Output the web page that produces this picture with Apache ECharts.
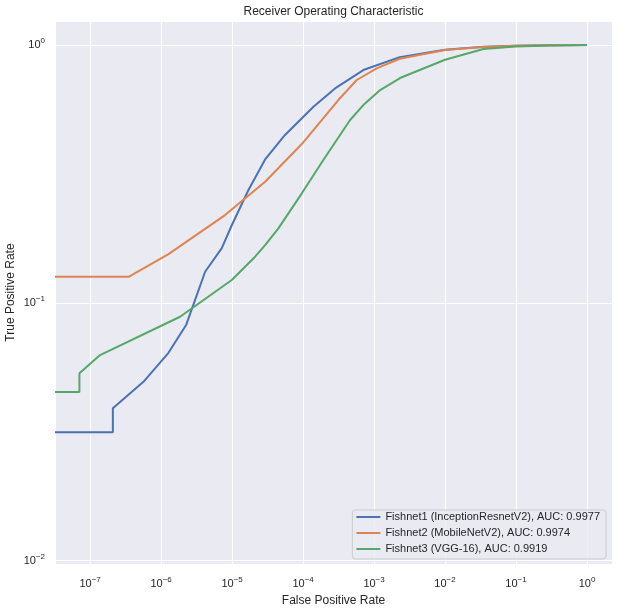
<!DOCTYPE html>
<html>
<head>
<meta charset="utf-8">
<script src="https://cdn.jsdelivr.net/npm/echarts@6/dist/echarts.min.js"></script>
<style>
  html, body { margin: 0; padding: 0; background: #fff; }
  #chart { width: 618px; height: 612px; }
</style>
</head>
<body>
<div id="chart"></div>
<script>
// ROC curves, values (fpr, tpr)
var seriesNames = [
    'Fishnet1 (InceptionResnetV2), AUC: 0.9977',
    'Fishnet2 (MobileNetV2), AUC: 0.9974',
    'Fishnet3 (VGG-16), AUC: 0.9919'
];

var fishnet1 = [
    [3.2e-8, 0.0315], [2.09e-7, 0.0315], [2.09e-7, 0.039], [5.64e-7, 0.0494],
    [1.27e-6, 0.064], [2.25e-6, 0.082], [4.17e-6, 0.132], [7.16e-6, 0.163],
    [9.9e-6, 0.200], [1.7e-5, 0.274], [2.92e-5, 0.360], [5.57e-5, 0.448],
    [1.4e-4, 0.576], [2.82e-4, 0.679], [7.06e-4, 0.800], [2.3e-3, 0.898],
    [1e-2, 0.960], [3.5e-2, 0.985], [0.1, 0.995], [0.3, 0.999], [1, 1]
];

var fishnet2 = [
    [3.2e-8, 0.1263], [3.54e-7, 0.1263], [1.27e-6, 0.1546], [7.96e-6, 0.219],
    [2.92e-5, 0.295], [9.6e-5, 0.413], [1.4e-4, 0.468], [3.14e-4, 0.612],
    [5.7e-4, 0.732], [1.09e-3, 0.812], [2.3e-3, 0.885], [1e-2, 0.957],
    [3.5e-2, 0.983], [0.1, 0.994], [0.3, 0.999], [1, 1]
];

var fishnet3 = [
    [3.2e-8, 0.0451], [7.07e-8, 0.0451], [7.07e-8, 0.0533], [1.38e-7, 0.0627],
    [1.85e-6, 0.0883], [9.9e-6, 0.1226], [2.11e-5, 0.151], [2.92e-5, 0.1676],
    [4.49e-5, 0.1945], [9.6e-5, 0.266], [1.93e-4, 0.358], [4.6e-4, 0.512],
    [7.06e-4, 0.585], [1.22e-3, 0.669], [2.32e-3, 0.745], [1e-2, 0.877],
    [3.47e-2, 0.965], [0.1, 0.988], [0.3, 0.997], [1, 1]
];

var xRange = [3.2e-8, 2.25];
var yRange = [0.0097, 1.24];

var colors = ['#4C72B0', '#DD8452', '#55A868'];
var font = '"Liberation Sans", Arial, sans-serif';
var textColor = '#262626';

function powLabel(v){
    var e = Math.log10(v);
    var r = Math.round(e);
    if (Math.abs(e - r) > 0.01) {
        return '';
    }
    return '{b|10}{s|' + String(r).replace('-', '\u2212') + '}';
}

var labelRich = {
    b: { fontSize: 11, fontFamily: font, color: textColor },
    s: { fontSize: 8, fontFamily: font, color: textColor, padding: [0, 0, 8, 0] }
};

var myChart = echarts.init(document.getElementById('chart'));

var option = {
    animation: false,
    color: colors,
    graphic: [{
        type: 'text',
        style: {
            text: 'Receiver Operating Characteristic',
            x: 333.5,
            y: 12,
            textAlign: 'center',
            textVerticalAlign: 'middle',
            fontSize: 12,
            fontFamily: font,
            fill: textColor
        }
    }],
    grid: {
        left: 55,
        right: 6,
        top: 21,
        bottom: 48,
        outerBoundsMode: 'none',
        containLabel: false,
        show: true,
        backgroundColor: '#EAEAF2',
        borderWidth: 0
    },
    legend: {
        orient: 'vertical',
        right: 12,
        bottom: 53,
        icon: 'rect',
        itemWidth: 24,
        itemHeight: 2,
        itemGap: 2,
        padding: [0, 6, 3, 4],
        backgroundColor: 'rgba(234,234,242,0.8)',
        borderColor: '#cccccc',
        borderWidth: 1,
        borderRadius: 3,
        textStyle: {
            fontSize: 11,
            fontFamily: font,
            color: textColor,
            lineHeight: 14
        },
        data: seriesNames
    },
    xAxis: {
        type: 'log',
        logBase: 10,
        min: xRange[0],
        max: xRange[1],
        name: 'False Positive Rate',
        nameLocation: 'middle',
        nameGap: 30,
        nameTextStyle: { fontSize: 12, fontFamily: font, color: textColor },
        axisLine: { show: false },
        axisTick: { show: false },
        axisLabel: {
            margin: 12,
            showMinLabel: true,
            showMaxLabel: true,
            formatter: powLabel,
            rich: labelRich
        },
        splitLine: { show: true, lineStyle: { color: '#ffffff', width: 1 } }
    },
    yAxis: {
        type: 'log',
        logBase: 10,
        min: yRange[0],
        max: yRange[1],
        name: 'True Positive Rate',
        nameLocation: 'middle',
        nameGap: 38,
        nameMoveOverlap: false,
        nameTextStyle: { fontSize: 12, fontFamily: font, color: textColor },
        axisLine: { show: false },
        axisTick: { show: false },
        axisLabel: {
            margin: 10,
            formatter: powLabel,
            rich: labelRich
        },
        splitLine: { show: true, lineStyle: { color: '#ffffff', width: 1 } }
    },
    series: [{
        name: seriesNames[0],
        type: 'line',
        data: fishnet1,
        symbol: 'none',
        lineStyle: { width: 2 }
    }, {
        name: seriesNames[1],
        type: 'line',
        data: fishnet2,
        symbol: 'none',
        lineStyle: { width: 2 }
    }, {
        name: seriesNames[2],
        type: 'line',
        data: fishnet3,
        symbol: 'none',
        lineStyle: { width: 2 }
    }]
};

if (option && typeof option === "object") {
    myChart.setOption(option, true);
}
</script>
</body>
</html>
